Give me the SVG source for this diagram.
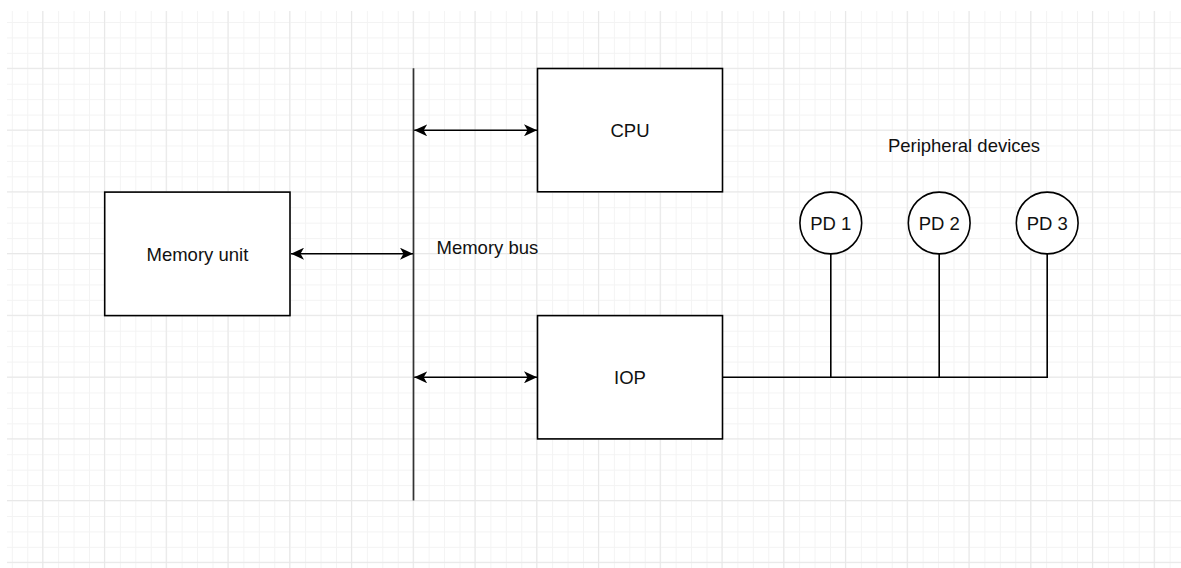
<svg xmlns="http://www.w3.org/2000/svg" width="1181" height="568" viewBox="0 0 1181 568">
  <defs>
    <pattern id="minor" patternUnits="userSpaceOnUse" x="11.825" y="6.545" width="15.4375" height="15.4375">
      <path d="M0.5,0 V15.4375 M0,0.5 H15.4375" fill="none" stroke="#f3f3f3" stroke-width="1"/>
    </pattern>
    <pattern id="major" patternUnits="userSpaceOnUse" x="42.2" y="67.8" width="61.75" height="61.75">
      <path d="M0.5,0 V61.75 M0,0.5 H61.75" fill="none" stroke="#e7e7e7" stroke-width="1"/>
    </pattern>
    <marker id="arr" viewBox="0 0 13 12" refX="13" refY="6" markerWidth="13" markerHeight="12" markerUnits="userSpaceOnUse" orient="auto-start-reverse">
      <path d="M0,0 L13,6 L0,12 L3.5,6 Z" fill="#000"/>
    </marker>
  </defs>
  <style>
    .box { fill: #fff; stroke: #000; stroke-width: 1.6; }
    .ln { fill: none; stroke: #000; stroke-width: 1.6; }
    .bus { fill: none; stroke: #333; stroke-width: 1.7; }
    .t { font-family: "Liberation Sans", Arial, sans-serif; font-size: 18.5px; fill: #111; }
    .c { text-anchor: middle; }
  </style>
  <rect width="1181" height="568" fill="#fff"/>
  <rect x="7" y="11" width="1174" height="557" fill="url(#minor)"/>
  <rect x="7" y="11" width="1174" height="557" fill="url(#major)"/>

  <g id="connectors">
    <line class="bus" x1="413.5" y1="68.3" x2="413.5" y2="500.5"/>
    <line class="ln" x1="291" y1="253.7" x2="413" y2="253.7" marker-start="url(#arr)" marker-end="url(#arr)"/>
    <line class="ln" x1="414.2" y1="130.3" x2="537" y2="130.3" marker-start="url(#arr)" marker-end="url(#arr)"/>
    <line class="ln" x1="414.2" y1="377.3" x2="537" y2="377.3" marker-start="url(#arr)" marker-end="url(#arr)"/>
    <path class="ln" d="M722.5,377.3 H1047.2 V254"/>
    <path class="ln" d="M830.8,377.3 V254"/>
    <path class="ln" d="M939.2,377.3 V254"/>
  </g>

  <g id="memory-unit">
    <rect class="box" x="104.7" y="192.1" width="185.3" height="123.5"/>
    <text class="t c" x="197.4" y="260.5">Memory unit</text>
  </g>
  <g id="memory-bus-label">
    <text class="t" x="436.5" y="253.7">Memory bus</text>
  </g>
  <g id="cpu">
    <rect class="box" x="537.5" y="68.5" width="185" height="123.3"/>
    <text class="t c" x="630" y="137">CPU</text>
  </g>
  <g id="iop">
    <rect class="box" x="537.5" y="315.6" width="185" height="123.3"/>
    <text class="t c" x="630" y="384">IOP</text>
  </g>
  <g id="peripheral-label">
    <text class="t c" x="964" y="151.7">Peripheral devices</text>
  </g>
  <g id="pd1">
    <circle class="box" cx="830.8" cy="223" r="30.9"/>
    <text class="t c" x="830.8" y="229.7">PD 1</text>
  </g>
  <g id="pd2">
    <circle class="box" cx="939.2" cy="223" r="30.9"/>
    <text class="t c" x="939.2" y="229.7">PD 2</text>
  </g>
  <g id="pd3">
    <circle class="box" cx="1047.2" cy="223" r="30.9"/>
    <text class="t c" x="1047.2" y="229.7">PD 3</text>
  </g>
</svg>
